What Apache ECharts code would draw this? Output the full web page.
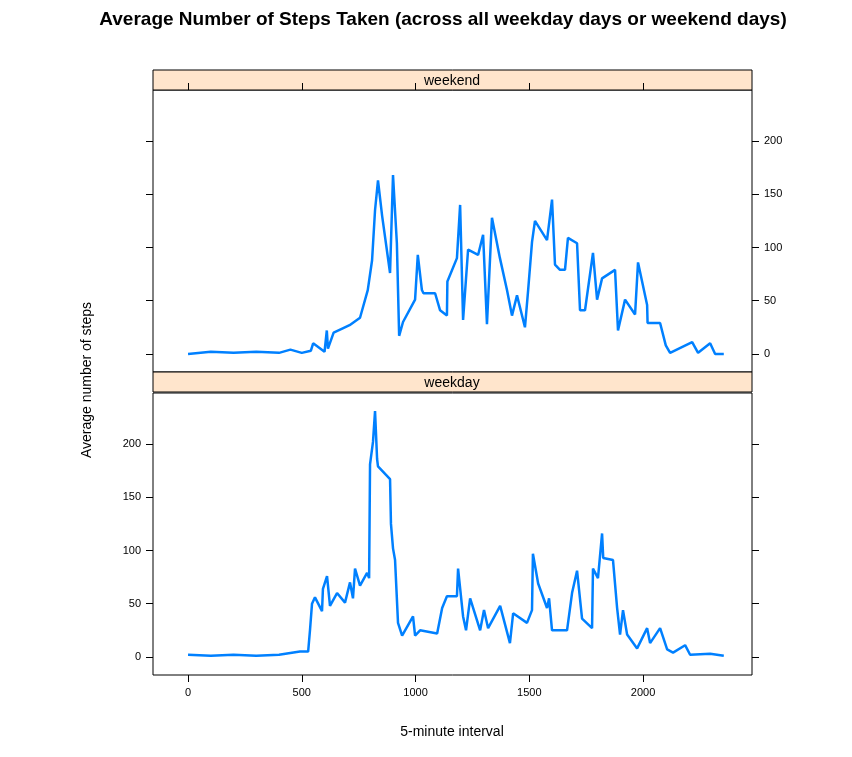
<!DOCTYPE html>
<html><head><meta charset="utf-8">
<script src="https://cdn.jsdelivr.net/npm/echarts@6/dist/echarts.min.js"></script>
<style>html,body{margin:0;background:#fff}#c{width:852px;height:757px}</style>
</head><body><div id="c"></div>
<script>
// interval, steps pairs
const weekendX = [0,100,200,300,400,450,500,540,550,600,610,615,640,680,710,756,790,809,822,835,853,888,901,918,928,945,998,1010,1028,1035,1086,1108,1138,1140,1182,1196,1209,1231,1275,1297,1314,1336,1371,1402,1424,1446,1481,1495,1512,1525,1578,1600,1613,1635,1657,1670,1710,1723,1745,1780,1798,1820,1877,1890,1921,1965,1978,2018,2020,2075,2100,2119,2216,2242,2295,2317,2355];
const weekendY = [0,2,1,2,1,4,1,3,10,2,22,5,20,24,27,34,60,88,135,163,130,76,168,104,17,30,51,93,60,57,57,41,36,68,90,140,32,98,93,112,28,128,90,60,36,55,25,60,105,125,107,145,84,79,79,109,104,41,41,95,51,71,79,22,51,37,86,46,29,29,8,1,11,1,10,0,0];
const weekdayX = [0,100,200,300,400,492,528,536,545,558,589,593,611,624,655,690,712,725,734,756,787,796,800,813,822,831,835,888,892,901,910,923,941,989,998,1020,1095,1117,1138,1182,1187,1209,1222,1240,1284,1301,1319,1372,1415,1429,1490,1512,1516,1539,1578,1587,1600,1666,1688,1710,1732,1776,1780,1802,1820,1825,1868,1886,1899,1912,1930,1974,2018,2031,2075,2106,2132,2185,2207,2295,2355];
const weekdayY = [2,1,2,1,2,5,5,25,50,56,43,64,76,48,60,51,70,55,83,67,79,74,181,202,231,186,179,167,125,102,91,32,20,38,20,25,22,46,57,57,83,38,25,55,25,44,27,48,13,41,32,44,97,69,46,55,25,25,60,81,36,27,83,74,116,93,91,46,21,44,21,8,27,13,27,7,4,11,2,3,1];
const yTicks = [0, 50, 100, 150, 200];
const xTicks = [0, 500, 1000, 1500, 2000];
const panels = ["weekend", "weekday"];

const chart = echarts.init(document.getElementById("c"));
const font = "Liberation Sans";
const grids = [
  { left: 153, right: 100, top: 90, height: 282, show: true, borderColor: "#000", borderWidth: 1 },
  { left: 153, right: 100, top: 393, height: 282, show: true, borderColor: "#000", borderWidth: 1 },
];
function xAx(i, pos, labels) {
  return {
    type: "value", gridIndex: i, position: pos, min: -154, max: 2479,
    axisLine: { show: false, onZero: false }, splitLine: { show: false },
    axisTick: { show: true, length: 7, customValues: xTicks, lineStyle: { color: "#000" } },
    axisLabel: { show: labels, customValues: xTicks, formatter: v => String(v), color: "#000", fontSize: 11, fontFamily: font, margin: 12 },
  };
}
function yAx(i, pos, labels) {
  return {
    type: "value", gridIndex: i, position: pos, min: -17, max: 248,
    axisLine: { show: false, onZero: false }, splitLine: { show: false },
    axisTick: { show: true, length: 7, customValues: yTicks, lineStyle: { color: "#000" } },
    axisLabel: { show: labels, customValues: yTicks, color: "#000", fontSize: 11, fontFamily: font, margin: 12 },
  };
}
const zip = (xs, ys) => xs.map((x, i) => [x, ys[i]]);
const strip = (top, name) => [
  { type: "rect", shape: { x: 153, y: top, width: 599, height: 20 }, style: { fill: "#ffe5cc", stroke: "#000", lineWidth: 1 } },
  { type: "text", x: 452, y: top + 11, style: { text: name, fill: "#000", font: "14px " + font, textAlign: "center", textVerticalAlign: "middle" } },
];
chart.setOption({
  animation: false,
  grid: grids,
  xAxis: [xAx(0, "top", false), xAx(1, "bottom", true)],
  yAxis: [yAx(0, "left", false), yAx(0, "right", true), yAx(1, "left", true), yAx(1, "right", false)],
  series: [
    { type: "line", xAxisIndex: 0, yAxisIndex: 0, data: zip(weekendX, weekendY), showSymbol: false, lineStyle: { color: "#0080ff", width: 2.5 } },
    { type: "line", xAxisIndex: 1, yAxisIndex: 2, data: zip(weekdayX, weekdayY), showSymbol: false, lineStyle: { color: "#0080ff", width: 2.5 } },
  ],
  graphic: [
    ...strip(70, panels[0]),
    ...strip(372, panels[1]),
    { type: "text", x: 443, y: 20, style: { text: "Average Number of Steps Taken (across all weekday days or weekend days)", fill: "#000", font: "bold 19px " + font, textAlign: "center", textVerticalAlign: "middle" } },
    { type: "text", x: 452, y: 732, style: { text: "5-minute interval", fill: "#000", font: "14px " + font, textAlign: "center", textVerticalAlign: "middle" } },
    { type: "text", x: 87, y: 380, rotation: Math.PI / 2, style: { text: "Average number of steps", fill: "#000", font: "14px " + font, textAlign: "center", textVerticalAlign: "middle" } },
  ],
});
</script></body></html>
